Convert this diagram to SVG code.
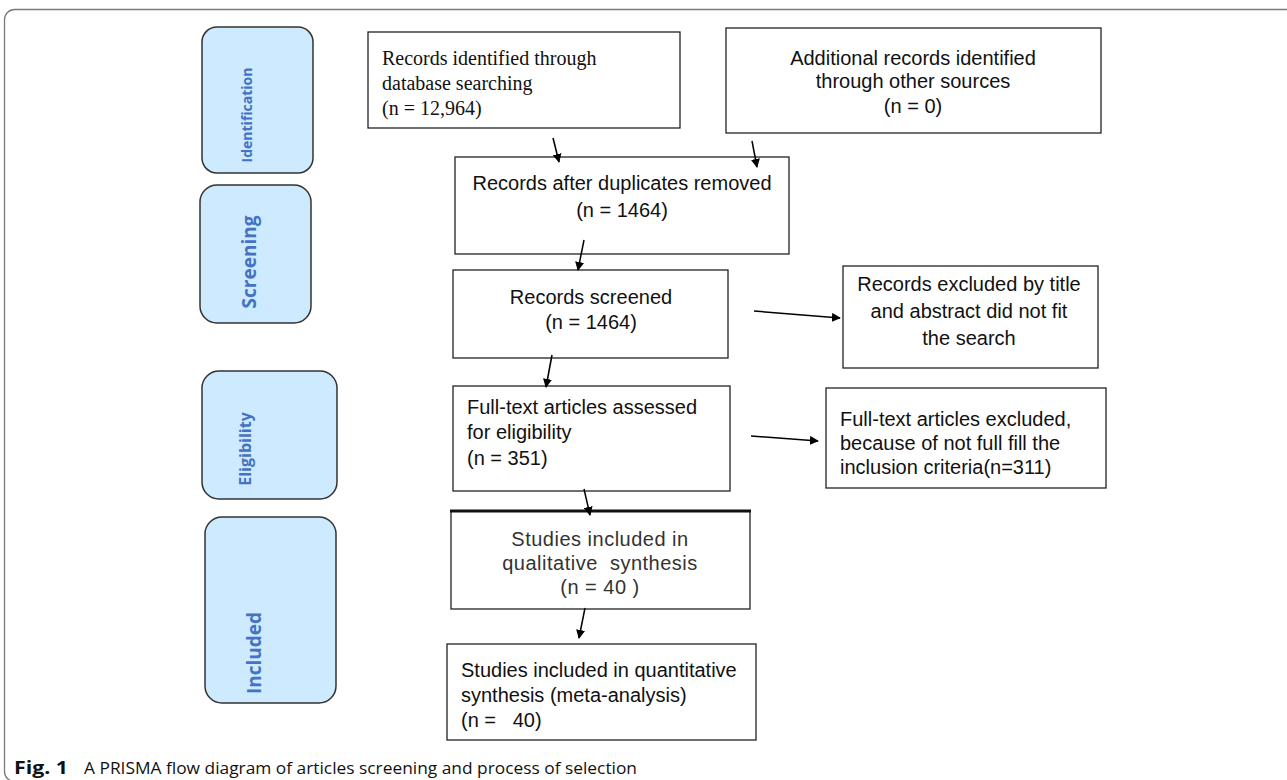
<svg xmlns="http://www.w3.org/2000/svg" width="1287" height="780" viewBox="0 0 1287 780">
<defs>
<style>
.frame{fill:#fff;stroke:#7a7a7a;stroke-width:1.3}
.stage{fill:#cdeaff;stroke:#333;stroke-width:1.5}
.stlbl{fill:#4472c4;font-family:"Open Sans","Noto Sans",sans-serif;font-weight:bold;text-anchor:middle}
.box{fill:#fff;stroke:#222;stroke-width:1.3}
.t{font-family:"Liberation Sans",Arial,sans-serif;font-size:20px;fill:#111}
.ts{font-family:"Liberation Serif","Times New Roman",serif;font-size:20px;fill:#111}
.tg{font-family:"Liberation Sans",Arial,sans-serif;font-size:20px;fill:#333;letter-spacing:0.5px;white-space:pre}
.c{text-anchor:middle}
.conn{stroke:#000;stroke-width:1.5;fill:none;marker-end:url(#ah)}
.cap{font-family:"Open Sans","Noto Sans",sans-serif;font-size:17px;fill:#111}
</style>
<marker id="ah" viewBox="0 0 10 10" refX="9" refY="5" markerWidth="9" markerHeight="9" orient="auto" markerUnits="userSpaceOnUse">
<path d="M0,0 L10,5 L0,10 z" fill="#000"/>
</marker>
</defs>
<rect class="frame" x="4.5" y="9.5" width="1300" height="772" rx="10"/>

<g id="stage-identification">
<rect class="stage" x="202" y="27" width="111" height="146" rx="15"/>
<text class="stlbl" font-size="14" transform="translate(252,115) rotate(-90)">Identification</text>
</g>
<g id="stage-screening">
<rect class="stage" x="200" y="185" width="111" height="138" rx="17"/>
<text class="stlbl" font-size="19" transform="translate(256,262) rotate(-90)">Screening</text>
</g>
<g id="stage-eligibility">
<rect class="stage" x="202" y="371" width="135" height="128" rx="17"/>
<text class="stlbl" font-size="16" transform="translate(251,449) rotate(-90)">Eligibility</text>
</g>
<g id="stage-included">
<rect class="stage" x="205" y="517" width="131" height="186" rx="17"/>
<text class="stlbl" font-size="19" transform="translate(261,653) rotate(-90)">Included</text>
</g>

<g id="n-db">
<rect class="box" x="368" y="32" width="312" height="96"/>
<text class="ts" x="382" y="65">Records identified through</text>
<text class="ts" x="382" y="90">database searching</text>
<text class="ts" x="382" y="115">(n = 12,964)</text>
</g>
<g id="n-other">
<rect class="box" x="726" y="28" width="375" height="105"/>
<text class="t c" x="913" y="65" font-size="22">Additional records identified</text>
<text class="t c" x="913" y="88" font-size="22">through other sources</text>
<text class="t c" x="913" y="113" font-size="22">(n = 0)</text>
</g>
<g id="n-dup">
<rect class="box" x="455" y="157" width="334" height="97"/>
<text class="t c" x="622" y="190">Records after duplicates removed</text>
<text class="t c" x="622" y="217">(n = 1464)</text>
</g>
<g id="n-screened">
<rect class="box" x="453" y="270" width="275" height="88"/>
<text class="t c" x="591" y="304">Records screened</text>
<text class="t c" x="591" y="329">(n = 1464)</text>
</g>
<g id="n-excl1">
<rect class="box" x="843" y="266" width="255" height="102"/>
<text class="t c" x="969" y="291" font-size="21">Records excluded by title</text>
<text class="t c" x="969" y="318" font-size="21">and abstract did not fit</text>
<text class="t c" x="969" y="345" font-size="21">the search</text>
</g>
<g id="n-fulltext">
<rect class="box" x="453" y="386" width="277" height="105"/>
<text class="t" x="467" y="414">Full-text articles assessed</text>
<text class="t" x="467" y="439">for eligibility</text>
<text class="t" x="467" y="465">(n = 351)</text>
</g>
<g id="n-excl2">
<rect class="box" x="826" y="388" width="280" height="100"/>
<text class="t" x="840" y="426" font-size="21">Full-text articles excluded,</text>
<text class="t" x="840" y="450" font-size="21">because of not full fill the</text>
<text class="t" x="840" y="474" font-size="21">inclusion criteria(n=311)</text>
</g>
<g id="n-qual">
<rect class="box" x="451" y="511" width="299" height="98"/>
<line x1="450" y1="511" x2="751" y2="511" stroke="#111" stroke-width="3"/>
<text class="tg c" x="600" y="546">Studies included in</text>
<text class="tg c" x="600" y="570">qualitative  synthesis</text>
<text class="tg c" x="600" y="594">(n = 40 )</text>
</g>
<g id="n-quant">
<rect class="box" x="447" y="644" width="309" height="96"/>
<text class="t" x="461" y="677">Studies included in quantitative</text>
<text class="t" x="461" y="702">synthesis (meta-analysis)</text>
<text class="t" x="461" y="727" style="white-space:pre">(n =   40)</text>
</g>

<g id="connectors">
<line class="conn" x1="553" y1="138" x2="559" y2="162"/>
<line class="conn" x1="752" y1="141" x2="757" y2="167"/>
<line class="conn" x1="584" y1="240" x2="578" y2="270"/>
<line class="conn" x1="754" y1="311" x2="840" y2="318"/>
<line class="conn" x1="552" y1="355" x2="546" y2="387"/>
<line class="conn" x1="751" y1="436" x2="818" y2="441"/>
<line class="conn" x1="584" y1="489" x2="590" y2="515"/>
<line class="conn" x1="585" y1="608" x2="579" y2="638"/>
</g>

<text class="cap" x="14" y="774" font-weight="bold" textLength="54" lengthAdjust="spacingAndGlyphs">Fig. 1</text>
<text class="cap" x="84" y="774" textLength="553" lengthAdjust="spacingAndGlyphs">A PRISMA flow diagram of articles screening and process of selection</text>
</svg>
